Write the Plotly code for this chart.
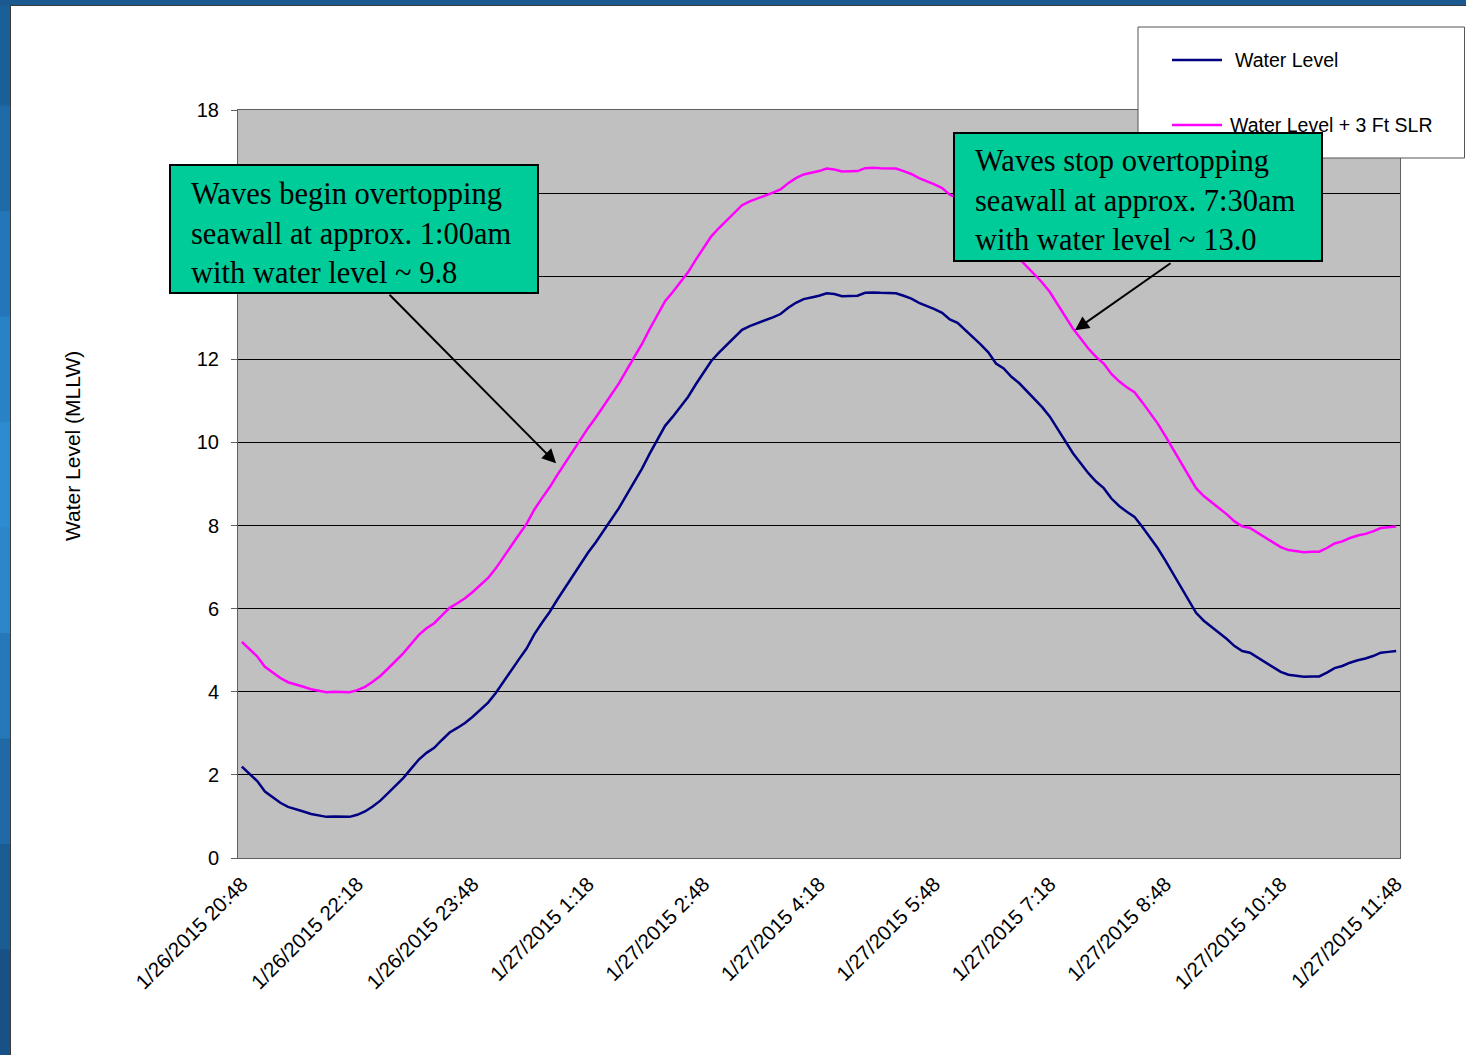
import pandas as pd
import plotly.graph_objects as go

# ---- data: readings every 6 minutes, 1/26/2015 20:48 -> 1/27/2015 11:48 ----
start_time = "2015-01-26 20:48"
step = "6min"

water_level = [
    2.20, 2.02, 1.85, 1.60, 1.46, 1.33, 1.23, 1.18, 1.12, 1.06,
    1.02, 0.99, 1.00, 1.00, 0.99, 1.04, 1.12, 1.24, 1.38, 1.56,
    1.74, 1.93, 2.15, 2.37, 2.53, 2.65, 2.84, 3.02, 3.13, 3.25,
    3.40, 3.56, 3.74, 3.97, 4.25, 4.50, 4.78, 5.04, 5.38, 5.66,
    5.92, 6.22, 6.50, 6.78, 7.09, 7.35, 7.60, 7.87, 8.12, 8.42,
    8.74, 9.05, 9.37, 9.73, 10.08, 10.40, 10.62, 10.86, 11.10, 11.40,
    11.68, 11.96, 12.16, 12.34, 12.53, 12.71, 12.80, 12.87, 12.93, 13.01,
    13.09, 13.24, 13.36, 13.45, 13.49, 13.53, 13.59, 13.57, 13.52, 13.53,
    13.53, 13.60, 13.61, 13.60, 13.60, 13.59, 13.53, 13.46, 13.36, 13.29,
    13.21, 13.12, 12.96, 12.88, 12.71, 12.55, 12.36, 12.17, 11.90, 11.78,
    11.58, 11.43, 11.24, 11.04, 10.85, 10.62, 10.33, 10.02, 9.74, 9.50,
    9.26, 9.06, 8.90, 8.65, 8.47, 8.33, 8.21, 7.97, 7.71, 7.46,
    7.16, 6.84, 6.52, 6.21, 5.90, 5.71, 5.57, 5.42, 5.27, 5.10,
    4.98, 4.94, 4.82, 4.72, 4.60, 4.48, 4.41, 4.38, 4.36, 4.37,
    4.37, 4.46, 4.57, 4.62, 4.70, 4.76, 4.80, 4.86, 4.94, 4.96,
    4.98,
]

water_level_slr = [
    5.20, 5.02, 4.85, 4.60, 4.46, 4.33, 4.23, 4.18, 4.12, 4.06,
    4.02, 3.99, 4.00, 4.00, 3.99, 4.04, 4.12, 4.24, 4.38, 4.56,
    4.74, 4.93, 5.15, 5.37, 5.53, 5.65, 5.84, 6.02, 6.13, 6.25,
    6.40, 6.56, 6.74, 6.97, 7.25, 7.50, 7.78, 8.04, 8.38, 8.66,
    8.92, 9.22, 9.50, 9.78, 10.09, 10.35, 10.60, 10.87, 11.12, 11.42,
    11.74, 12.05, 12.37, 12.73, 13.08, 13.40, 13.62, 13.86, 14.10, 14.40,
    14.68, 14.96, 15.16, 15.34, 15.53, 15.71, 15.80, 15.87, 15.93, 16.01,
    16.09, 16.24, 16.36, 16.45, 16.49, 16.53, 16.59, 16.57, 16.52, 16.53,
    16.53, 16.60, 16.61, 16.60, 16.60, 16.59, 16.53, 16.46, 16.36, 16.29,
    16.21, 16.12, 15.96, 15.88, 15.71, 15.55, 15.36, 15.17, 14.90, 14.78,
    14.58, 14.43, 14.24, 14.04, 13.85, 13.62, 13.33, 13.02, 12.74, 12.50,
    12.26, 12.06, 11.90, 11.65, 11.47, 11.33, 11.21, 10.97, 10.71, 10.46,
    10.16, 9.84, 9.52, 9.21, 8.90, 8.71, 8.57, 8.42, 8.27, 8.10,
    7.98, 7.94, 7.82, 7.72, 7.60, 7.48, 7.41, 7.38, 7.36, 7.37,
    7.37, 7.46, 7.57, 7.62, 7.70, 7.76, 7.80, 7.86, 7.94, 7.96,
    7.98,
]

series_names = ["Water Level", "Water Level + 3 Ft SLR"]
series_colors = ["#000080", "#FF00FF"]

tick_times = pd.date_range(start_time, periods=11, freq="90min")
tick_labels = [
    "1/26/2015 20:48", "1/26/2015 22:18", "1/26/2015 23:48",
    "1/27/2015 1:18", "1/27/2015 2:48", "1/27/2015 4:18",
    "1/27/2015 5:48", "1/27/2015 7:18", "1/27/2015 8:48",
    "1/27/2015 10:18", "1/27/2015 11:48",
]
y_ticks = [0, 2, 4, 6, 8, 10, 12, 14, 16, 18]
# 14 and 16 sit behind the first note box, so they carry no label
y_tick_labels = ["0", "2", "4", "6", "8", "10", "12", "", "", "18"]

note_begin = "Waves begin overtopping<br>seawall at approx. 1:00am<br>with water level ~ 9.8"
note_stop = "Waves stop overtopping<br>seawall at approx. 7:30am<br>with water level ~ 13.0"

times = pd.date_range(start_time, periods=len(water_level), freq=step)

# ---- page geometry (pixels) ----
W, H = 1466, 1055
ML, MR, MT, MB = 238, 66, 110, 197
PW, PH = W - ML - MR, H - MT - MB


def px(x):
    return (x - ML) / PW


def py(y):
    return (H - MB - y) / PH


fig = go.Figure()
for vals, name, color in zip([water_level, water_level_slr], series_names, series_colors):
    fig.add_trace(go.Scatter(
        x=times, y=vals, name=name, mode="lines",
        line=dict(color=color, width=2.5), showlegend=False,
    ))

shapes = []

# window frame: blue strips on the left and top
frame_cols = ["#1b5f99", "#1f6aa8", "#2476b8", "#2a82c6", "#2d8bd0",
              "#2b86ca", "#2678b9", "#2069a6", "#1b5c93", "#175186"]
n = len(frame_cols)
for k, c in enumerate(frame_cols):
    y_top = k * H / n
    y_bot = (k + 1) * H / n + 1
    shapes.append(dict(type="rect", xref="paper", yref="paper",
                       x0=px(0), x1=px(10), y0=py(y_bot), y1=py(y_top),
                       fillcolor=c, line=dict(width=0), layer="above"))
shapes.append(dict(type="rect", xref="paper", yref="paper",
                   x0=px(0), x1=px(W), y0=py(5), y1=py(0),
                   fillcolor="#1a5a90", line=dict(width=0), layer="above"))
shapes.append(dict(type="line", xref="paper", yref="paper",
                   x0=px(10.5), x1=px(10.5), y0=py(H), y1=py(5),
                   line=dict(color="#3a3a3a", width=1), layer="above"))
shapes.append(dict(type="line", xref="paper", yref="paper",
                   x0=px(10), x1=px(W), y0=py(5.5), y1=py(5.5),
                   line=dict(color="#3a3a3a", width=1), layer="above"))

# legend box with line samples
shapes.append(dict(type="rect", xref="paper", yref="paper",
                   x0=px(1138), x1=px(1464.5), y0=py(158), y1=py(27),
                   fillcolor="white", line=dict(color="#555555", width=1), layer="above"))
for yy, c in zip([60, 125], series_colors):
    shapes.append(dict(type="line", xref="paper", yref="paper",
                       x0=px(1172), x1=px(1222), y0=py(yy), y1=py(yy),
                       line=dict(color=c, width=2.5), layer="above"))

# note boxes
for (x0, y0, x1, y1) in [(170, 165, 538, 293), (954, 133, 1322, 261)]:
    shapes.append(dict(type="rect", xref="paper", yref="paper",
                       x0=px(x0), x1=px(x1), y0=py(y1), y1=py(y0),
                       fillcolor="#00CC99", line=dict(color="black", width=2),
                       layer="above"))

annotations = [
    # legend labels
    dict(text=series_names[0], xref="paper", yref="paper", x=px(1233), y=py(60),
         xanchor="left", yanchor="middle", showarrow=False,
         font=dict(family="Arial, Liberation Sans", size=19.5, color="black")),
    dict(text=series_names[1], xref="paper", yref="paper", x=px(1228), y=py(125),
         xanchor="left", yanchor="middle", showarrow=False,
         font=dict(family="Arial, Liberation Sans", size=19.5, color="black")),
    # note texts
    dict(text=note_begin, xref="paper", yref="paper", x=px(189), y=py(233),
         xanchor="left", yanchor="middle", align="left", showarrow=False,
         font=dict(family="Liberation Serif, Times New Roman, serif", size=30.5, color="black")),
    dict(text=note_stop, xref="paper", yref="paper", x=px(973), y=py(200),
         xanchor="left", yanchor="middle", align="left", showarrow=False,
         font=dict(family="Liberation Serif, Times New Roman, serif", size=30.5, color="black")),
    # arrows
    dict(text="", x=pd.Timestamp("2015-01-27 00:53"), y=9.5, xref="x", yref="y",
         ax=-168, ay=-170, showarrow=True, arrowhead=2, arrowsize=1.4,
         arrowwidth=2, arrowcolor="black", standoff=0, startstandoff=0),
    dict(text="", x=pd.Timestamp("2015-01-27 07:37:36"), y=12.7, xref="x", yref="y",
         ax=97, ay=-68, showarrow=True, arrowhead=2, arrowsize=1.4,
         arrowwidth=2, arrowcolor="black", standoff=0, startstandoff=0),
    # y axis title
    dict(text="Water Level (MLLW)", xref="paper", yref="paper", x=px(72), y=py(446),
         textangle=-90, showarrow=False, xanchor="center", yanchor="middle",
         font=dict(family="Arial, Liberation Sans", size=21, color="black")),
]

fig.update_layout(
    width=W, height=H,
    margin=dict(l=ML, r=MR, t=MT, b=MB, pad=0),
    paper_bgcolor="white",
    plot_bgcolor="#C0C0C0",
    showlegend=False,
    shapes=shapes,
    annotations=annotations,
    font=dict(family="Arial, Liberation Sans", color="black"),
)

fig.update_xaxes(
    type="date",
    range=[pd.Timestamp("2015-01-26 20:45"), pd.Timestamp("2015-01-27 11:51")],
    tickmode="array", tickvals=tick_times, ticktext=tick_labels,
    tickangle=-45, tickfont=dict(size=20.5, family="Arial, Liberation Sans"),
    showgrid=False, zeroline=False,
    showline=True, linecolor="#606060", linewidth=1, mirror=True,
    ticks="", ticklabelstandoff=5,
)
fig.update_yaxes(
    range=[0, 18], tickmode="array", tickvals=y_ticks, ticktext=y_tick_labels,
    tickfont=dict(size=20, family="Arial, Liberation Sans"),
    showgrid=True, gridcolor="black", gridwidth=1, zeroline=False,
    showline=True, linecolor="#606060", linewidth=1, mirror=True,
    ticks="outside", ticklen=6, tickcolor="#606060", ticklabelstandoff=8,
)

fig.write_html("out.html")
